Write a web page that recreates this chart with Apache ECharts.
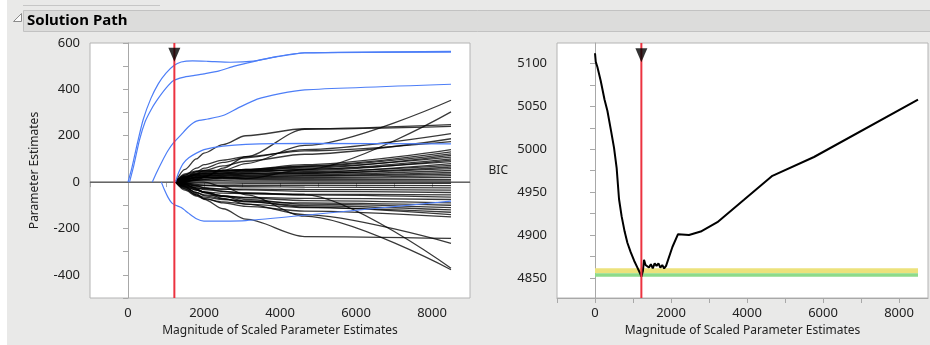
<!DOCTYPE html>
<html><head><meta charset="utf-8">
<script src="https://cdn.jsdelivr.net/npm/echarts@6/dist/echarts.min.js"></script>
<style>html,body{margin:0;padding:0;background:#fff}#c{width:930px;height:345px}</style>
</head><body><div id="c"></div>
<script>
// ---------- data ----------
const knotX = [1250, 1500, 1800, 2000, 2500, 3100, 4650, 8500];
const blackPaths = [
  [0, 0, 15, 25, 50, 80, 158, 353],
  [0, 10, 20, 22, 20, 15, 54, 303],
  [0, 55, 100, 125, 162, 200, 230, 248],
  [0, 0, 10, 20, 60, 110, 228, 240],
  [0, 20, 45, 60, 85, 105, 140, 209],
  [0, 15, 35, 50, 70, 90, 120, 187],
  [0, 30, 60, 75, 95, 110, 135, 175],
  [0, 20, 35, 42, 48, 55, 75, 140],
  [0, 25, 40, 45, 50, 55, 70, 130],
  [0, 15, 30, 38, 45, 52, 68, 122],
  [0, 30, 45, 48, 50, 52, 60, 115],
  [0, 10, 25, 32, 40, 48, 65, 108],
  [0, 20, 32, 36, 40, 45, 55, 100],
  [0, 35, 48, 50, 50, 48, 50, 95],
  [0, 12, 22, 28, 35, 42, 55, 88],
  [0, 25, 35, 38, 38, 38, 42, 80],
  [0, 8, 18, 24, 30, 36, 45, 72],
  [0, 18, 28, 30, 32, 34, 38, 65],
  [0, 5, 12, 18, 25, 30, 38, 58],
  [0, 22, 30, 30, 28, 28, 32, 50],
  [0, 10, 18, 20, 22, 24, 28, 42],
  [0, 3, 8, 12, 18, 22, 26, 35],
  [0, 15, 22, 22, 20, 18, 20, 28],
  [0, 6, 10, 12, 14, 15, 16, 20],
  [0, 12, 18, 18, 15, 12, 10, 12],
  [0, 4, 6, 6, 6, 5, 5, 5],
  [0, -5, -8, -8, -8, -7, -6, -5],
  [0, -10, -15, -15, -15, -14, -14, -15],
  [0, -4, -10, -14, -18, -20, -22, -25],
  [0, -15, -25, -28, -30, -30, -32, -35],
  [0, -8, -18, -24, -30, -34, -40, -45],
  [0, -20, -35, -42, -48, -50, -52, -55],
  [0, -12, -25, -32, -40, -46, -55, -65],
  [0, -25, -45, -55, -62, -66, -70, -75],
  [0, -18, -35, -45, -58, -68, -80, -90],
  [0, -30, -55, -65, -75, -82, -90, -100],
  [0, -15, -32, -44, -60, -75, -95, -110],
  [0, -22, -45, -58, -72, -85, -102, -120],
  [0, -35, -60, -72, -85, -95, -110, -130],
  [0, -10, -28, -42, -62, -82, -108, -140],
  [0, -28, -55, -70, -90, -105, -125, -150],
  [0, -20, -50, -74, -115, -160, -235, -243],
  [0, 0, 0, 0, -20, -55, -147, -378],
  [0, -5, -15, -25, -40, -50, -55, -372],
  [0, -10, -30, -45, -70, -95, -140, -264]
];
const blueA = [[0,0],[100,60],[250,170],[400,270],[600,360],[800,425],[1000,470],[1200,502],[1400,518],[1700,523],[2100,521],[2700,517],[3300,522],[3900,540],[4650,557],[8500,564]];
const blueB = [[40,0],[150,70],[300,180],[450,260],[600,310],[750,350],[1000,405],[1200,438],[1450,452],[1750,460],[2000,467],[2400,480],[2800,500],[3300,520],[3900,541],[4650,558],[8500,561]];
const blueC = [[640,0],[750,40],[900,90],[1050,135],[1200,170],[1400,205],[1600,240],[1800,263],[2100,272],[2500,287],[2900,320],[3400,358],[4000,382],[4650,398],[8500,422]];
const blueD = [[1250,0],[1330,40],[1450,80],[1600,105],[1800,125],[2000,140],[2500,155],[3100,163],[4650,167],[8500,165]];
const blueE = [[878,0],[950,-30],[1050,-65],[1150,-90],[1250,-100],[1400,-110],[1600,-135],[1800,-158],[2000,-168],[2500,-168],[3100,-166],[4650,-143],[8500,-82]];
const bicX = [0, 20, 63, 150, 250, 326, 420, 500, 570, 632, 700, 780, 852, 939, 1030, 1116, 1180, 1220, 1260, 1290, 1330, 1378, 1420, 1470, 1520, 1570, 1620, 1670, 1720, 1770, 1820, 1870, 1905, 2037, 2185, 2474, 2782, 3221, 3921, 4668, 5763, 8500];
const bicY = [5112, 5102, 5096, 5080, 5058, 5045, 5022, 5002, 4978, 4942, 4922, 4904, 4891, 4880, 4870, 4862, 4856, 4851.3, 4858, 4871, 4865, 4867, 4862, 4866, 4861, 4867, 4864, 4867, 4862, 4865, 4861, 4864, 4863, 4886, 4901, 4900, 4904, 4915, 4941, 4969, 4991, 5058];
const selectedX = 1220;
const greenWidth = 4, yellowWidth = 10;
const xTicks = [-1000, 0, 1000, 2000, 3000, 4000, 5000, 6000, 7000, 8000];
const xLabels = [0, 2000, 4000, 6000, 8000];
const leftYTicks = [-500, -400, -300, -200, -100, 0, 100, 200, 300, 400, 500, 600];
const leftYLabels = [-400, -200, 0, 200, 400, 600];
const rightYTicks = [4850, 4875, 4900, 4925, 4950, 4975, 5000, 5025, 5050, 5075, 5100];
const rightYLabels = [4850, 4900, 4950, 5000, 5050, 5100];

// ---------- chart ----------
const FONT = 'Noto Sans';
const LBL = '#222';
const AX = '#a8a8a8';
const bestBIC = Math.min(...bicY);
const plain = v => String(v);

function xAxisDef(gi, max) {
  return {
    type: 'value', gridIndex: gi, min: -1000, max: max,
    name: 'Magnitude of Scaled Parameter Estimates', nameLocation: 'middle', nameGap: 27,
    nameTextStyle: { fontFamily: FONT, fontSize: 12, color: LBL },
    axisLine: { show: true, lineStyle: { color: AX } },
    axisTick: { show: true, length: 5, lineStyle: { color: AX }, customValues: xTicks },
    axisLabel: { fontFamily: FONT, fontSize: 13, color: LBL, margin: 9, customValues: xLabels, formatter: plain },
    splitLine: { show: false }
  };
}

const series = [];
series.push({ type: 'line', xAxisIndex: 0, yAxisIndex: 0, data: [[-1000, 0], [9000, 0]],
  symbol: 'none', lineStyle: { color: '#505050', width: 1.2 }, silent: true, z: 2 });
blackPaths.forEach(p => series.push({
  type: 'line', xAxisIndex: 0, yAxisIndex: 0, symbol: 'none', silent: true, z: 3,
  smooth: 0.3, smoothMonotone: 'x',
  data: knotX.map((x, i) => [x, p[i]]),
  lineStyle: { color: 'rgba(0,0,0,0.78)', width: 1.3 }
}));
[blueA, blueB, blueC, blueD, blueE].forEach(b => series.push({
  type: 'line', xAxisIndex: 0, yAxisIndex: 0, symbol: 'none', silent: true, z: 4, smooth: 0.2,
  data: b, lineStyle: { color: '#4d7ef7', width: 1.2 }
}));
series.push({ type: 'line', xAxisIndex: 0, yAxisIndex: 0, symbol: 'none', silent: true, z: 6,
  data: [[selectedX, -500], [selectedX, 600]], lineStyle: { color: '#ec3340', width: 2 } });
series.push({ type: 'scatter', xAxisIndex: 0, yAxisIndex: 0, silent: true, z: 7,
  data: [[selectedX, 549]], symbol: 'triangle', symbolRotate: 180, symbolSize: [12, 14],
  itemStyle: { color: '#000' } });
series.push({ type: 'line', xAxisIndex: 1, yAxisIndex: 1, symbol: 'none', silent: true, z: 4,
  data: bicX.map((x, i) => [x, bicY[i]]), lineStyle: { color: '#000', width: 2 },
  markArea: { silent: true, data: [
    [{ coord: [0, bestBIC + greenWidth], itemStyle: { color: '#ece27c' } }, { coord: [8500, bestBIC + yellowWidth] }],
    [{ coord: [0, bestBIC], itemStyle: { color: '#8ddb8a' } }, { coord: [8500, bestBIC + greenWidth] }]
  ] }
});
series.push({ type: 'line', xAxisIndex: 1, yAxisIndex: 1, symbol: 'none', silent: true, z: 6,
  data: [[selectedX, 4826.5], [selectedX, 5124]], lineStyle: { color: '#ec3340', width: 2 } });
series.push({ type: 'scatter', xAxisIndex: 1, yAxisIndex: 1, silent: true, z: 7,
  data: [[selectedX, 5109.7]], symbol: 'triangle', symbolRotate: 180, symbolSize: [12, 14],
  itemStyle: { color: '#000' } });

const chart = echarts.init(document.getElementById('c'), null, { renderer: 'canvas' });
chart.setOption({
  animation: false,
  backgroundColor: '#fff',
  graphic: [
    { type: 'rect', z: -10, shape: { x: 7, y: 0, width: 930, height: 345 }, style: { fill: '#e9e9e8' } },
    { type: 'line', z: -9, shape: { x1: 23, y1: 5.5, x2: 160, y2: 5.5 }, style: { stroke: '#c6c6c6', lineWidth: 1 } },
    { type: 'rect', z: -9, shape: { x: 23.5, y: 10.5, width: 910, height: 21 }, style: { fill: '#dcdcdb', stroke: '#c2c2c2', lineWidth: 1 } },
    { type: 'polygon', z: -8, shape: { points: [[21.5, 13.5], [21.5, 21.5], [13.5, 21.5]] }, style: { fill: '#fafafa', stroke: '#8a8a8a', lineWidth: 1 } },
    { type: 'text', z: -8, x: 27, y: 21, style: { text: 'Solution Path', fontFamily: FONT, fontWeight: 'bold', fontSize: 15, fill: '#000', verticalAlign: 'middle' } }
  ],
  grid: [
    { left: 90, top: 43, width: 380, height: 255, show: true, backgroundColor: '#fff', borderColor: '#b4b4b4', borderWidth: 1, outerBoundsMode: 'none', containLabel: false },
    { left: 557, top: 43, width: 371, height: 255, show: true, backgroundColor: '#fff', borderColor: '#b4b4b4', borderWidth: 1, outerBoundsMode: 'none', containLabel: false }
  ],
  xAxis: [xAxisDef(0, 9000), xAxisDef(1, 8763)],
  yAxis: [
    { type: 'value', gridIndex: 0, min: -500, max: 600,
      name: 'Parameter Estimates', nameLocation: 'middle', nameGap: 49, nameRotate: 90,
      nameTextStyle: { fontFamily: FONT, fontSize: 12, color: LBL },
      axisLine: { show: true, lineStyle: { color: AX } },
      axisTick: { show: true, length: 5, lineStyle: { color: AX }, customValues: leftYTicks },
      axisLabel: { fontFamily: FONT, fontSize: 13, color: LBL, margin: 10, customValues: leftYLabels, formatter: plain },
      splitLine: { show: false } },
    { type: 'value', gridIndex: 1, min: 4826.5, max: 5124,
      name: 'BIC', nameLocation: 'middle', nameGap: 49, nameRotate: 0,
      nameTextStyle: { fontFamily: FONT, fontSize: 12, color: LBL },
      axisLine: { show: true, lineStyle: { color: AX } },
      axisTick: { show: true, length: 5, lineStyle: { color: AX }, customValues: rightYTicks },
      axisLabel: { fontFamily: FONT, fontSize: 13, color: LBL, margin: 10, customValues: rightYLabels, formatter: plain },
      splitLine: { show: false } }
  ],
  series: series
});
</script></body></html>
